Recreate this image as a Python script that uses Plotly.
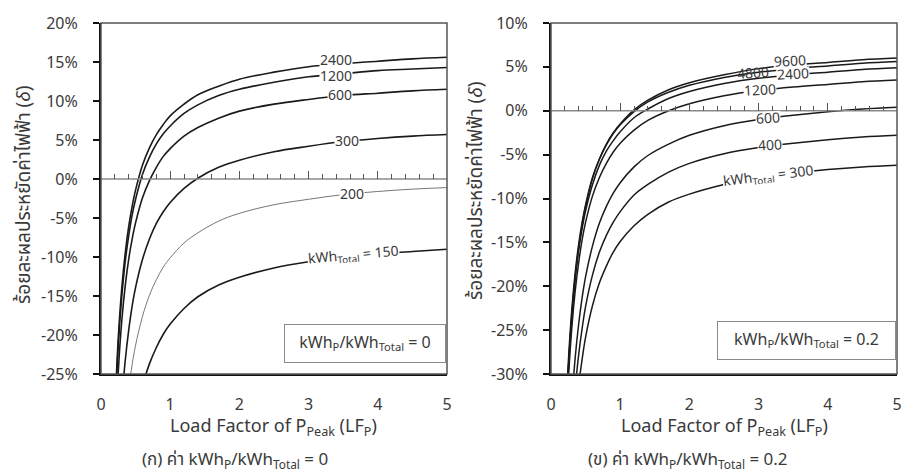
import plotly.graph_objects as go

# ---------------- data ----------------
LF = [0.2, 0.25, 0.3, 0.35, 0.4, 0.45, 0.5, 0.6, 0.7, 0.8, 0.9, 1.0,
      1.2, 1.4, 1.7, 2.0, 2.5, 3.0, 3.5, 4.0, 4.5, 5.0]

# panel (a): kWhP/kWhTotal = 0
a_2400 = [-29.8, -20.3, -14.0, -9.5, -6.1, -3.5, -1.4, 1.8, 4.0, 5.7, 7.0, 8.1,
          9.6, 10.8, 11.9, 12.8, 13.7, 14.4, 14.8, 15.1, 15.4, 15.6]
a_1200 = [-30.7, -21.3, -15.1, -10.6, -7.3, -4.6, -2.6, 0.6, 2.8, 4.5, 5.8, 6.8,
          8.4, 9.5, 10.7, 11.5, 12.4, 13.1, 13.5, 13.9, 14.1, 14.3]
a_600 = [-34.0, -24.6, -18.2, -13.7, -10.3, -7.7, -5.6, -2.4, -0.2, 1.5, 2.9, 3.9,
         5.5, 6.6, 7.8, 8.7, 9.6, 10.2, 10.7, 11.0, 11.3, 11.5]
a_300 = [-46.6, -35.7, -28.5, -23.3, -19.4, -16.3, -13.9, -10.3, -7.7, -5.7, -4.2, -3.0,
         -1.2, 0.1, 1.5, 2.4, 3.5, 4.2, 4.8, 5.2, 5.5, 5.7]
a_200 = [None, -43.9, -36.4, -31.0, -27.0, -23.8, -21.3, -17.6, -14.9, -12.9, -11.3, -10.1,
         -8.2, -6.9, -5.4, -4.4, -3.3, -2.6, -2.0, -1.6, -1.3, -1.1]
a_150 = [None, None, -46.5, -40.8, -36.5, -33.2, -30.5, -26.5, -23.7, -21.6, -19.9, -18.6,
         -16.6, -15.1, -13.6, -12.6, -11.4, -10.6, -10.0, -9.6, -9.3, -9.0]

# panel (b): kWhP/kWhTotal = 0.2
b_9600 = [-39.0, -29.6, -23.4, -18.9, -15.6, -13.0, -10.9, -7.7, -5.5, -3.8, -2.5, -1.5,
          0.1, 1.2, 2.4, 3.2, 4.1, 4.8, 5.2, 5.5, 5.8, 6.0]
b_4800 = [-37.8, -28.7, -22.7, -18.4, -15.2, -12.7, -10.7, -7.6, -5.5, -3.9, -2.6, -1.6,
          -0.1, 1.0, 2.1, 2.9, 3.8, 4.4, 4.8, 5.1, 5.4, 5.6]
b_2400 = [-38.6, -29.5, -23.5, -19.2, -15.9, -13.4, -11.4, -8.4, -6.2, -4.6, -3.4, -2.4,
          -0.8, 0.2, 1.4, 2.2, 3.1, 3.7, 4.1, 4.4, 4.7, 4.9]
b_1200 = [-39.8, -30.8, -24.8, -20.5, -17.3, -14.7, -12.7, -9.7, -7.6, -6.0, -4.7, -3.7,
          -2.2, -1.1, 0.0, 0.8, 1.7, 2.3, 2.7, 3.0, 3.3, 3.5]
b_600 = [-51.2, -40.4, -33.3, -28.1, -24.3, -21.3, -18.9, -15.4, -12.8, -10.9, -9.4, -8.2,
         -6.4, -5.1, -3.8, -2.8, -1.7, -1.0, -0.5, -0.1, 0.2, 0.4]
b_400 = [None, -44.1, -36.9, -31.7, -27.8, -24.8, -22.3, -18.7, -16.1, -14.2, -12.7, -11.5,
         -9.6, -8.4, -7.0, -6.0, -4.9, -4.2, -3.7, -3.3, -3.0, -2.8]
b_300 = [None, -47.7, -40.4, -35.2, -31.3, -28.3, -25.8, -22.2, -19.6, -17.7, -16.1, -14.9,
         -13.1, -11.8, -10.4, -9.5, -8.4, -7.6, -7.1, -6.7, -6.4, -6.2]

x_ticks = [0, 1, 2, 3, 4, 5]
a_yticks = [-25, -20, -15, -10, -5, 0, 5, 10, 15, 20]
b_yticks = [-30, -25, -20, -15, -10, -5, 0, 5, 10]
a_range = [-25, 20]
b_range = [-30, 10]

# curve labels: (text, LF, delta, angle) -- later entries are drawn on top
a_labels = [("1200", 3.40, 13.2, 0), ("2400", 3.40, 15.15, 0), ("600", 3.46, 10.75, 0),
            ("300", 3.56, 4.85, 0), ("200", 3.62, -2.0, 0),
            ("kWh<sub>Total</sub> = 150", 3.65, -9.8, -5)]
b_labels = [("2400", 3.50, 4.1, -3), ("9600", 3.46, 5.6, -3), ("4800", 2.92, 4.3, -4),
            ("1200", 3.02, 2.3, -3), ("600", 3.14, -0.9, -3), ("400", 3.16, -3.95, -3),
            ("kWh<sub>Total</sub> = 300", 3.14, -7.5, -7)]

# ---------------- figure ----------------
FONT = "Noto Sans Thai, Noto Sans, Open Sans, sans-serif"
TXT = "#3a3a3a"
fig = go.Figure()

a_series = [("2400", a_2400), ("1200", a_1200), ("600", a_600), ("300", a_300),
            ("200", a_200), ("150", a_150)]
b_series = [("9600", b_9600), ("4800", b_4800), ("2400", b_2400), ("1200", b_1200),
            ("600", b_600), ("400", b_400), ("300", b_300)]

# zero reference lines (carry the small tick marks of the overlay axes)
fig.add_trace(go.Scatter(x=[0, 5], y=[0, 0], mode="lines", xaxis="x3", yaxis="y",
                         line=dict(color="#8a8a8a", width=1.5), showlegend=False,
                         hoverinfo="skip"))
fig.add_trace(go.Scatter(x=[0, 5], y=[0, 0], mode="lines", xaxis="x4", yaxis="y2",
                         line=dict(color="#8a8a8a", width=1.5), showlegend=False,
                         hoverinfo="skip"))

for name, vals in a_series:
    thin = name == "200"
    fig.add_trace(go.Scatter(x=LF, y=vals, mode="lines", name=name, xaxis="x", yaxis="y",
                             line=dict(color="#777777" if thin else "#1a1a1a",
                                       width=1.0 if thin else 1.6, shape="spline"),
                             showlegend=False, hoverinfo="x+y+name"))
for name, vals in b_series:
    fig.add_trace(go.Scatter(x=LF, y=vals, mode="lines", name=name, xaxis="x2", yaxis="y2",
                             line=dict(color="#1a1a1a", width=1.5, shape="spline"),
                             showlegend=False, hoverinfo="x+y+name"))

W, H = 903, 475
xa_dom = [101 / W, 447 / W]
xb_dom = [551 / W, 897 / W]
y_dom = [1 - 374 / H, 1 - 23 / H]


def zero_pos(rng):
    return y_dom[0] + (0 - rng[0]) / (rng[1] - rng[0]) * (y_dom[1] - y_dom[0])


tickfont = dict(family=FONT, size=16, color=TXT)

common_x = dict(range=[0, 5], tickvals=x_ticks, ticks="", showline=True, linecolor="#111",
                linewidth=1.5, showgrid=False, zeroline=False, tickfont=tickfont,
                ticklabelstandoff=15, fixedrange=True, automargin=False)
common_y = dict(ticks="outside", ticklen=6, tickwidth=1.5, tickcolor="#111", showline=True,
                linecolor="#111", linewidth=2, showgrid=False, zeroline=False,
                tickfont=tickfont, ticklabelstandoff=12, fixedrange=True, automargin=False)
zero_x = dict(range=[0, 5], showline=False, ticks="inside",
              ticklen=8, tickwidth=1, tickcolor="#555", tick0=0, dtick=1,
              minor=dict(ticks="inside", ticklen=5, tickwidth=1, tickcolor="#555", dtick=0.2),
              showticklabels=False, showgrid=False, zeroline=False, anchor="free",
              side="bottom", automargin=False, fixedrange=True)

fig.update_layout(
    width=W, height=H, margin=dict(l=0, r=0, t=0, b=0, autoexpand=False),
    paper_bgcolor="white", plot_bgcolor="white",
    font=dict(family=FONT, color=TXT),
    xaxis=dict(domain=xa_dom, anchor="y", **common_x),
    yaxis=dict(domain=y_dom, anchor="x", range=a_range, tickvals=a_yticks,
               ticktext=[f"{v}%" for v in a_yticks], **common_y),
    xaxis2=dict(domain=xb_dom, anchor="y2", **common_x),
    yaxis2=dict(domain=y_dom, anchor="x2", range=b_range, tickvals=b_yticks,
                ticktext=[f"{v}%" for v in b_yticks], **common_y),
    xaxis3=dict(overlaying="x", position=zero_pos(a_range), **zero_x),
    xaxis4=dict(overlaying="x2", position=zero_pos(b_range), **zero_x),
)

# frame (top / right edges)
for xr, yr in (("x domain", "y domain"), ("x2 domain", "y2 domain")):
    fig.add_shape(type="rect", xref=xr, yref=yr, x0=0, x1=1, y0=0, y1=1,
                  line=dict(color="#555", width=1.5), layer="above")

ann = []
for text, x, y, ang in a_labels:
    ann.append(dict(text=text, x=x, y=y, xref="x", yref="y", showarrow=False,
                    xanchor="center", yanchor="middle", height=13,
                    textangle=ang, bgcolor="white", borderpad=0,
                    font=dict(family=FONT, size=14, color=TXT)))
for text, x, y, ang in b_labels:
    ann.append(dict(text=text, x=x, y=y, xref="x2", yref="y2", showarrow=False,
                    xanchor="center", yanchor="middle", height=13,
                    textangle=ang, bgcolor="rgba(0,0,0,0)" if text == "4800" else "white",
                    borderpad=0, font=dict(family=FONT, size=14, color=TXT)))

# ratio boxes
ann.append(dict(text="kWh<sub>P</sub>/kWh<sub>Total</sub> = 0", xref="x domain", yref="y domain",
                x=0.762, y=0.086, xanchor="center", yanchor="middle", showarrow=False,
                bordercolor="#8a8a8a", borderwidth=1,
                borderpad=2, bgcolor="white", width=156, height=33,
                font=dict(family=FONT, size=16, color=TXT)))
ann.append(dict(text="kWh<sub>P</sub>/kWh<sub>Total</sub> = 0.2", xref="x2 domain", yref="y2 domain",
                x=0.737, y=0.096, xanchor="center", yanchor="middle", showarrow=False,
                bordercolor="#8a8a8a", borderwidth=1,
                borderpad=2, bgcolor="white", width=173, height=33,
                font=dict(family=FONT, size=16, color=TXT)))

# axis titles and captions
ytitle = "ร้อยละผลประหยัดค่าไฟฟ้า (<i>δ</i>)"
xtitle = "Load Factor of P<sub>Peak</sub> (LF<sub>P</sub>)"
for xc, yc in ((25 / W, 1 - 195 / H), (476 / W, 1 - 191 / H)):
    ann.append(dict(text=ytitle, x=xc, y=yc, xref="paper", yref="paper", showarrow=False,
                    xanchor="center", yanchor="middle",
                    textangle=-90, font=dict(family=FONT, size=19, color=TXT)))
for xc in (273 / W, 724 / W):
    ann.append(dict(text=xtitle, x=xc, y=1 - 427 / H, xref="paper", yref="paper",
                    xanchor="center", yanchor="middle",
                    showarrow=False, font=dict(family=FONT, size=18, color=TXT)))
ann.append(dict(text="(ก) ค่า kWh<sub>P</sub>/kWh<sub>Total</sub> = 0", x=234.5 / W, y=1 - 460 / H,
                xref="paper", yref="paper", showarrow=False, xanchor="center", yanchor="middle",
                font=dict(family=FONT, size=17, color=TXT)))
ann.append(dict(text="(ข) ค่า kWh<sub>P</sub>/kWh<sub>Total</sub> = 0.2", x=687.5 / W, y=1 - 460 / H,
                xref="paper", yref="paper", showarrow=False, xanchor="center", yanchor="middle",
                font=dict(family=FONT, size=17, color=TXT)))

fig.update_layout(annotations=ann)
fig.write_html("out.html", config={"displayModeBar": False},
               post_script="document.body.style.margin='0px';")
